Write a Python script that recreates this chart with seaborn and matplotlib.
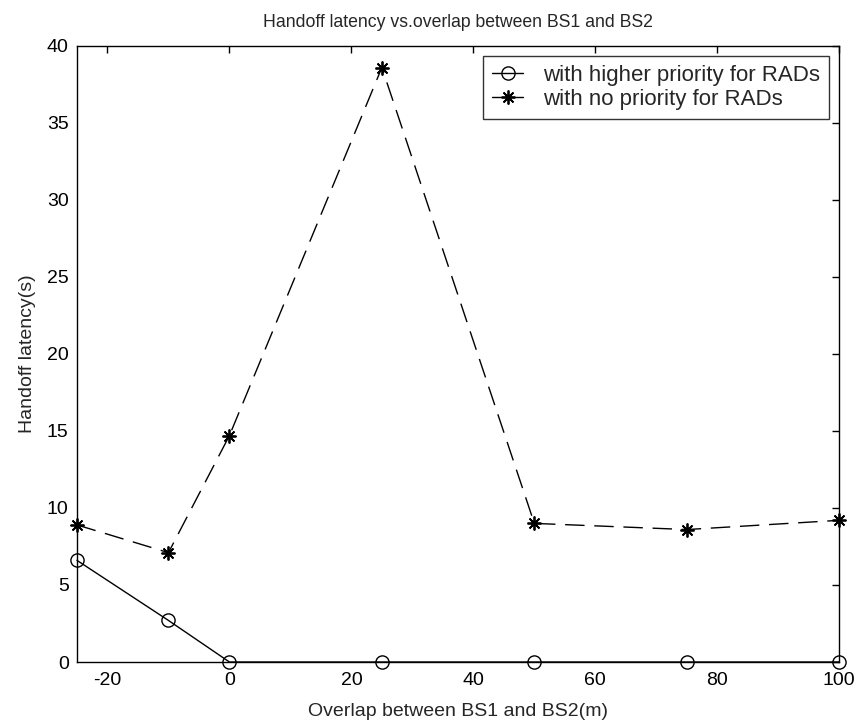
import matplotlib
matplotlib.use('Agg')
import matplotlib.pyplot as plt
import seaborn as sns
from matplotlib.lines import Line2D

overlap = [-25, -10, 0, 25, 50, 75, 100]
latency_priority = [6.6, 2.7, 0, 0, 0, 0, 0]
latency_no_priority = [8.9, 7.1, 14.7, 38.6, 9.0, 8.6, 9.2]

sns.set_style('white')
plt.rcParams['font.family'] = ['Liberation Sans', 'DejaVu Sans']
plt.rcParams['axes.unicode_minus'] = False

star = (8, 2, 0)

fig = plt.figure(figsize=(8.59, 7.27), dpi=100)
ax = fig.add_axes([0.0896, 0.0894, 0.8874, 0.8474])

sns.lineplot(x=overlap, y=latency_priority, ax=ax, color='black', linewidth=1)
sns.lineplot(x=overlap, y=latency_no_priority, ax=ax, color='black', linewidth=1)

# matlab-like markers, drawn on the seaborn lines
l1, l2 = ax.lines[0], ax.lines[1]
l1.set_marker('o')
l1.set_markersize(9.5)
l1.set_markerfacecolor('none')
l1.set_markeredgecolor('black')
l1.set_markeredgewidth(1)
l2.set_marker(star)
l2.set_markersize(10)
l2.set_markeredgecolor('black')
l2.set_markeredgewidth(1.3)
l2.set_dashes([14, 7])
for l in (l1, l2):
    l.set_clip_on(False)

ax.set_xlim(-25, 100)
ax.set_ylim(0, 40)
ax.set_xticks([-20, 0, 20, 40, 60, 80, 100])
ax.set_yticks(range(0, 41, 5))
ax.tick_params(axis='both', direction='in', length=5, width=1, labelsize=14,
               top=True, right=True, colors='black')
ax.tick_params(axis='x', pad=7)
ax.tick_params(axis='y', pad=6)
for s in ax.spines.values():
    s.set_color('black')
    s.set_linewidth(1)
    s.set_zorder(0)

ax.set_title('Handoff latency vs.overlap between BS1 and BS2', fontsize=12.7, pad=14)
ax.set_xlabel('Overlap between BS1 and BS2(m)', fontsize=14, labelpad=10)
ax.set_ylabel('Handoff latency(s)', fontsize=14, labelpad=8)

handles = [
    Line2D([], [], color='black', lw=1, marker='o', markersize=9.5, markerfacecolor='none'),
    Line2D([], [], color='black', lw=1, marker=star, markersize=10, markeredgewidth=1.3),
]
leg = ax.legend(handles, ['with higher priority for RADs', 'with no priority for RADs'],
                loc='upper right', fontsize=16, frameon=True, fancybox=False,
                edgecolor='black', borderaxespad=0.45, handlelength=1.4,
                handletextpad=0.9, borderpad=0.4, labelspacing=0.15)
leg.get_frame().set_linewidth(1)

fig.savefig('out.png', dpi=100)
